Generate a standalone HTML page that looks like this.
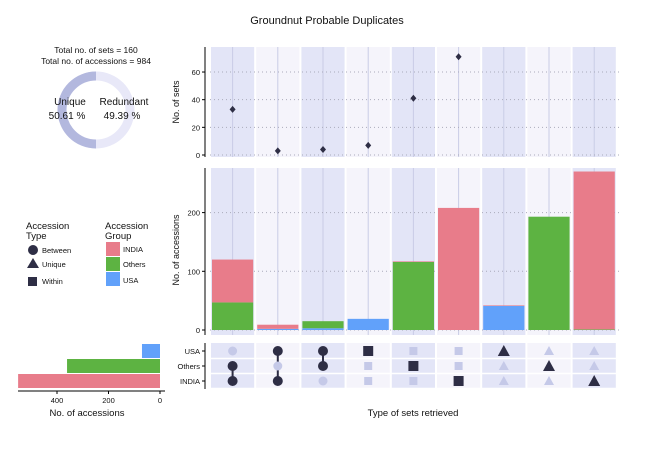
<!DOCTYPE html>
<html><head><meta charset="utf-8"><style>
body{margin:0;background:#fff;font-family:"Liberation Sans",sans-serif}
svg text{font-family:"Liberation Sans",sans-serif;fill:#111}
</style></head><body>
<svg id="c" width="645" height="449" xmlns="http://www.w3.org/2000/svg">
<text x="327" y="24" font-size="11" text-anchor="middle">Groundnut Probable Duplicates</text>
<g>
<text x="96" y="53" font-size="8.5" text-anchor="middle">Total no. of sets = 160</text>
<text x="96" y="64" font-size="8.5" text-anchor="middle">Total no. of accessions  = 984</text>
<circle cx="96" cy="110" r="34" fill="none" stroke="#e8e8f8" stroke-width="9"/>
<path d="M96,76 A34,34 0 0 0 96,144" fill="none" stroke="#b3b8de" stroke-width="9"/>
<text x="70" y="105" font-size="10" text-anchor="middle">Unique</text>
<text x="67" y="119" font-size="10" text-anchor="middle">50.61 %</text>
<text x="124" y="105" font-size="10" text-anchor="middle">Redundant</text>
<text x="122" y="119" font-size="10" text-anchor="middle">49.39 %</text>
</g>
<g font-size="9">
<text x="26" y="229" font-size="9.5">Accession</text><text x="26" y="239" font-size="9.5">Type</text>
<circle cx="33" cy="250" r="5" fill="#2e2e45"/><text x="42" y="253" font-size="7.5">Between</text>
<polygon points="33,258 39,268 27,268" fill="#2e2e45"/><text x="42" y="267" font-size="7.5">Unique</text>
<rect x="28" y="277" width="9" height="9" fill="#2e2e45"/><text x="42" y="284" font-size="7.5">Within</text>
<text x="105" y="229" font-size="9.5">Accession</text><text x="105" y="239" font-size="9.5">Group</text>
<rect x="106" y="242" width="14" height="14" fill="#e87c8a"/><text x="123" y="252" font-size="7.5">INDIA</text>
<rect x="106" y="257" width="14" height="14" fill="#5db342"/><text x="123" y="267" font-size="7.5">Others</text>
<rect x="106" y="272" width="14" height="14" fill="#61a1fa"/><text x="123" y="283" font-size="7.5">USA</text>
</g>
<g id="g"></g>
<text x="413" y="416" font-size="9.5" text-anchor="middle">Type of sets retrieved</text>
<text x="87" y="416" font-size="9.5" text-anchor="middle">No. of accessions</text>
<text transform="translate(179,102) rotate(-90)" font-size="9" text-anchor="middle">No. of sets</text>
<text transform="translate(179,250) rotate(-90)" font-size="9" text-anchor="middle">No. of accessions</text>
</svg>
<script>
const setCounts=[33,3,4,7,41,71,0,0,0];
const indiaVals=[73,7,0,0,1,208,1,0,269];
const othersVals=[47,0,12,0,116,0,0,193,1];
const usaVals=[0,2,3,19,0,0,41,0,0];
const rowNames=["USA","Others","INDIA"];
const groupTotals=[70,361,551];
const setTicks=[0,20,40,60];
const accTicks=[0,100,200];
const leftTicks=[400,200,0];
// membership: type, active rows
const types=["between","between","between","within","within","within","unique","unique","unique"];
const members=[[1,2],[0,2],[0,1],[0],[1],[2],[0],[1],[2]];

const NS="http://www.w3.org/2000/svg",G=document.getElementById('g');
function mk(t,a,p){const e=document.createElementNS(NS,t);for(const k in a)e.setAttribute(k,a[k]);(p||G).appendChild(e);return e;}
const x0=210,cw=45.2;
const cx=i=>x0+cw*i+cw/2;
const ySet=v=>155-v*1.383;
const yAcc=v=>330-v*0.587;
const rowY=[351,366,381];
const xLeft=v=>160-v*0.2575;
const pal=["#e87c8a","#5db342","#61a1fa"];
// backgrounds
[[47,157],[168,335],[343,389]].forEach(([a,b],k)=>{
 for(let i=0;i<9;i++){const r=mk('rect',{x:x0+cw*i+1,y:a,width:cw-2,height:b-a,fill:i%2==0?'#e3e5f7':'#f5f4fb'});
 
 if(k<2)mk('line',{x1:cx(i),x2:cx(i),y1:a,y2:b,stroke:'#c9cce6','stroke-width':1});}
});
for(let r=0;r<3;r++)mk('line',{x1:x0,x2:x0+cw*9,y1:rowY[r]+7.5,y2:rowY[r]+7.5,stroke:'#fff','stroke-width':1.5});
// axes
mk('line',{x1:205,x2:205,y1:47,y2:157,stroke:'#000'});
mk('line',{x1:205,x2:205,y1:168,y2:335,stroke:'#000'});
mk('line',{x1:205,x2:205,y1:343,y2:389,stroke:'#000'});
setTicks.forEach(t=>{const y=ySet(t);mk('line',{x1:202,x2:205,y1:y,y2:y,stroke:'#000'});
 mk('line',{x1:x0,x2:620,y1:y,y2:y,stroke:'#aab','stroke-dasharray':'1,3'});
 const e=mk('text',{x:200,y:y+3,'font-size':7.5,'text-anchor':'end'});e.textContent=t;});
accTicks.forEach(t=>{const y=yAcc(t);mk('line',{x1:202,x2:205,y1:y,y2:y,stroke:'#000'});
 mk('line',{x1:x0,x2:620,y1:y,y2:y,stroke:'#aab','stroke-dasharray':'1,3'});
 const e=mk('text',{x:200,y:y+3,'font-size':7.5,'text-anchor':'end'});e.textContent=t;});
rowNames.forEach((n,r)=>{mk('line',{x1:202,x2:205,y1:rowY[r],y2:rowY[r],stroke:'#000'});
 const e=mk('text',{x:200,y:rowY[r]+3,'font-size':7.5,'text-anchor':'end'});e.textContent=n;});
// set points
setCounts.forEach((v,i)=>{if(!v)return;const y=ySet(v),x=cx(i);
 const p=mk('polygon',{points:`${x},${y-3.5} ${x+3},${y} ${x},${y+3.5} ${x-3},${y}`,fill:'#2e2e45'});
 });
// stacked bars: USA bottom, Others, INDIA top
for(let i=0;i<9;i++){let base=0;[[usaVals,2],[othersVals,1],[indiaVals,0]].forEach(([arr,c])=>{
 const v=arr[i];if(!v)return;const r=mk('rect',{x:x0+cw*i+2,y:yAcc(base+v),width:cw-4,height:yAcc(base)-yAcc(base+v),fill:pal[c]});
 base+=v;});}
// matrix
function shape(type,x,y,on){const f=on?'#2e2e45':'#c5c9e8';let e;
 if(type=='between')e=mk('circle',{cx:x,cy:y,r:on?5:4.5,fill:f});
 else if(type=='within')e=on?mk('rect',{x:x-5,y:y-5,width:10,height:10,fill:f}):mk('rect',{x:x-4,y:y-4,width:8,height:8,fill:f});
 else e=on?mk('polygon',{points:`${x},${y-6} ${x+6},${y+5} ${x-6},${y+5}`,fill:f}):mk('polygon',{points:`${x},${y-5} ${x+5},${y+4} ${x-5},${y+4}`,fill:f});
 }
for(let i=0;i<9;i++){const m=members[i];
 if(m.length>1)mk('line',{x1:cx(i),x2:cx(i),y1:rowY[Math.min(...m)],y2:rowY[Math.max(...m)],stroke:'#2e2e45','stroke-width':2});
 for(let r=0;r<3;r++)shape(types[i],cx(i),rowY[r],m.includes(r));}
// left bars
mk('line',{x1:18,x2:165,y1:391,y2:391,stroke:'#000'});
groupTotals.forEach((v,r)=>{const col=[2,1,0][r];
 const b=mk('rect',{x:xLeft(v),y:rowY[r]-7,width:xLeft(0)-xLeft(v),height:14,fill:pal[col]});
 });
leftTicks.forEach(t=>{const x=xLeft(t);mk('line',{x1:x,x2:x,y1:391,y2:394,stroke:'#000'});
 const e=mk('text',{x:x,y:403,'font-size':7.5,'text-anchor':'middle'});e.textContent=t;});
</script>
</body></html>
